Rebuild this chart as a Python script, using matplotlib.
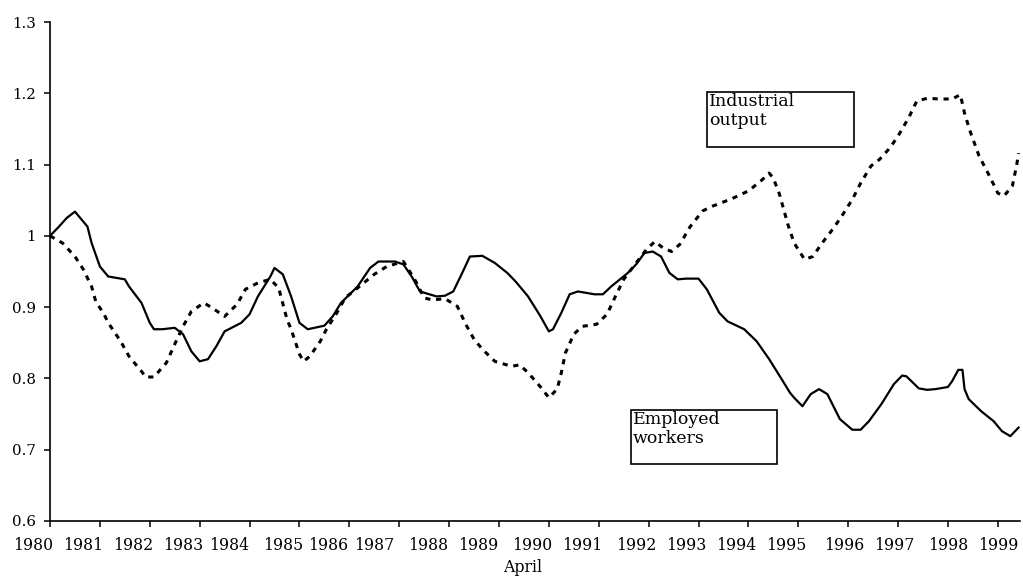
import matplotlib.pyplot as plt
from matplotlib.patches import Rectangle

# months counted from April 1980, index 1980 = 1.0
emp_month = [0, 2, 4, 6, 9, 10, 12, 14, 18, 19, 22, 24, 25, 27, 30, 32, 34, 36, 38, 40, 42, 46,
             48, 50, 53, 54, 56, 58, 60, 62, 66, 68, 70, 74, 77, 79, 83, 85, 87, 89, 93, 95,
             97, 99, 101, 104, 107, 110, 112, 115, 118, 120, 121, 123, 125, 127, 131, 133, 135, 139, 141, 143,
             145, 147, 149, 151, 153, 156, 158, 161, 163, 167, 170, 173, 176, 178, 179, 181, 183, 185, 187, 190,
             193, 195, 197, 200, 203, 205, 206, 209, 211, 213, 216, 217, 218.5, 219.5, 220, 221, 224, 227, 229, 231,
             233]
emp_value = [1.000, 1.012, 1.025, 1.034, 1.013, 0.990, 0.957, 0.943, 0.939, 0.929, 0.906, 0.878, 0.869, 0.869, 0.871, 0.862, 0.838, 0.824, 0.827, 0.845, 0.866, 0.878,
             0.890, 0.915, 0.943, 0.955, 0.946, 0.915, 0.878, 0.869, 0.874, 0.887, 0.906, 0.929, 0.955, 0.964, 0.964, 0.960, 0.943, 0.922, 0.915, 0.916,
             0.922, 0.946, 0.971, 0.972, 0.962, 0.948, 0.936, 0.915, 0.887, 0.866, 0.869, 0.892, 0.918, 0.922, 0.918, 0.918, 0.929, 0.948, 0.960, 0.976,
             0.978, 0.971, 0.948, 0.939, 0.940, 0.940, 0.925, 0.892, 0.880, 0.869, 0.852, 0.827, 0.799, 0.780, 0.773, 0.761, 0.778, 0.785, 0.778, 0.743,
             0.728, 0.728, 0.740, 0.764, 0.792, 0.804, 0.803, 0.786, 0.784, 0.785, 0.788, 0.796, 0.812, 0.812, 0.785, 0.771, 0.754, 0.740, 0.726, 0.719,
             0.731]

ind_month = [0, 3, 6, 8, 10, 11, 13, 14, 17, 19, 22, 23, 25, 28, 30, 32, 34, 37, 39, 42,
             45, 47, 50, 53, 55, 57, 58, 60, 61, 62.5, 65, 66.5, 69, 71, 74, 78, 81, 85, 86, 88,
             90, 92, 95, 98, 100, 102, 104, 107, 111, 113, 115, 118, 120, 122, 123, 124, 126, 128, 131.5, 134,
             136, 138, 141, 143.5, 145.5, 147.5, 149.5, 151.5, 154, 157, 159.5, 164, 168, 171, 173, 174, 175.5, 177.5, 179, 181.5,
             183.5, 185.5, 188.5, 190.5, 193, 195, 197.5, 199.5, 202, 204, 206.5, 208.5, 211, 214, 217, 219, 220, 221.5, 223.5, 226,
             228, 229.5, 231.5, 232.5, 233]
ind_value = [1.000, 0.990, 0.971, 0.953, 0.929, 0.908, 0.890, 0.878, 0.852, 0.831, 0.810, 0.802, 0.802, 0.822, 0.848, 0.873, 0.894, 0.906, 0.899, 0.887,
             0.904, 0.925, 0.934, 0.939, 0.927, 0.883, 0.869, 0.834, 0.824, 0.831, 0.852, 0.869, 0.892, 0.913, 0.927, 0.946, 0.957, 0.964, 0.955, 0.936,
             0.913, 0.910, 0.912, 0.901, 0.876, 0.855, 0.841, 0.824, 0.817, 0.819, 0.808, 0.788, 0.773, 0.785, 0.808, 0.836, 0.862, 0.873, 0.876, 0.890,
             0.915, 0.939, 0.962, 0.981, 0.992, 0.983, 0.978, 0.988, 1.013, 1.035, 1.042, 1.052, 1.063, 1.077, 1.088, 1.081, 1.058, 1.016, 0.990, 0.967,
             0.971, 0.988, 1.011, 1.028, 1.051, 1.074, 1.098, 1.107, 1.123, 1.140, 1.165, 1.189, 1.193, 1.192, 1.192, 1.198, 1.172, 1.144, 1.112, 1.084,
             1.060, 1.056, 1.070, 1.098, 1.116]

year_labels = ['1980', '1981', '1982', '1983', '1984', '1985', '1986', '1987', '1988', '1989',
               '1990', '1991', '1992', '1993', '1994', '1995', '1996', '1997', '1998', '1999']
year_label_month = [-4, 8, 20, 32, 43, 56, 67, 78, 91, 103, 116, 128, 141, 153, 165, 177, 191, 203, 216, 228]

y_ticks = [0.6, 0.7, 0.8, 0.9, 1.0, 1.1, 1.2, 1.3]
y_tick_labels = ['0.6', '0.7', '0.8', '0.9', '1', '1.1', '1.2', '1.3']

plt.rcParams['font.family'] = 'DejaVu Serif'
plt.rcParams['font.size'] = 11.3

fig = plt.figure(figsize=(10.23, 5.76), dpi=100)
ax = fig.add_axes([0.0489, 0.0955, 0.948, 0.8663])

ax.plot(emp_month, emp_value, color='black', lw=1.6)
ax.plot(ind_month, ind_value, color='black', lw=2.2, linestyle=(0, (1.7, 1.9)))

ax.set_xlim(0, 233.3)
ax.set_ylim(0.6, 1.3)
ax.spines['top'].set_visible(False)
ax.spines['right'].set_visible(False)
ax.spines['left'].set_linewidth(1.2)
ax.spines['bottom'].set_linewidth(1.2)

ax.set_yticks(y_ticks)
ax.set_yticklabels(y_tick_labels, fontsize=10.8)
ax.set_xticks(range(0, 233, 12))
ax.set_xticklabels([])
ax.tick_params(axis='both', direction='out', length=4, width=1.1, color='black')
ax.tick_params(axis='y', pad=6)

# year labels do not sit on the tick marks
for m, lab in zip(year_label_month, year_labels):
    ax.text(m, -0.05, lab, transform=ax.get_xaxis_transform(), ha='center', va='center', clip_on=False)

fig.text(523 / 1023, 1 - 567 / 576, 'April', ha='center', va='center')

# label boxes
boxes = [((706.7, 91.7, 854, 146.7), 'Industrial\noutput'),
         ((631, 410, 777, 464.3), 'Employed\nworkers')]
for (x0, y0, x1, y1), txt in boxes:
    fig.patches.append(Rectangle((x0 / 1023, 1 - y1 / 576), (x1 - x0) / 1023, (y1 - y0) / 576,
                                 transform=fig.transFigure, fill=False, edgecolor='black', lw=1.2))
    fig.text((x0 + 2) / 1023, 1 - (y0 + 1) / 576, txt, ha='left', va='top', linespacing=1.15,
             fontsize=12.5)

fig.savefig('out.png', dpi=100)
